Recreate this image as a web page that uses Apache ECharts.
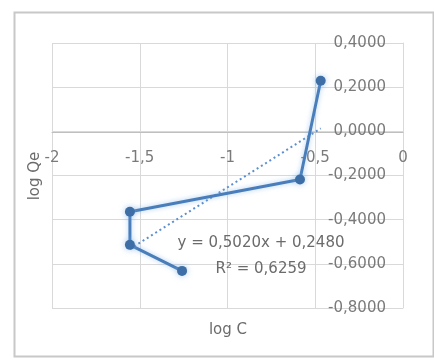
<!DOCTYPE html>
<html>
<head>
<meta charset="utf-8">
<script src="https://cdn.jsdelivr.net/npm/echarts@6/dist/echarts.min.js"></script>
<style>html,body{margin:0;padding:0;background:#fff}#c{width:434px;height:360px}</style>
</head>
<body>
<div id="c"></div>
<script>
var logC  = [-0.469, -0.587, -1.556, -1.556, -1.259];
var logQe = [0.229, -0.218, -0.364, -0.514, -0.632];
var trendX = [-1.556, -0.469];
var trendY = [-0.533, 0.013];
var equationText = 'y = 0,5020x + 0,2480';
var r2Text = 'R\u00b2 = 0,6259';
var xTitle = 'log C';
var yTitle = 'log Qe';

var FONT = 'DejaVu Sans';
var chart = echarts.init(document.getElementById('c'), null, {renderer: 'canvas'});
chart.setOption({
  animation: false,
  backgroundColor: '#ffffff',
  grid: {left: 52, right: 31, top: 43, bottom: 52},
  xAxis: [{
    type: 'value', min: -2, max: 0, interval: 0.5,
    offset: -176,
    axisLine: {show: true, onZero: false, lineStyle: {color: '#bfbfbf', width: 1}},
    axisTick: {show: false},
    axisLabel: {margin: 19, color: '#7a7a7a', fontFamily: FONT, fontSize: 15,
      formatter: function (v) { return String(v).replace('.', ','); }},
    splitLine: {show: true, lineStyle: {color: '#d9d9d9', width: 1}}
  }],
  yAxis: {
    type: 'value', min: -0.8, max: 0.4, interval: 0.2, position: 'right',
    axisLine: {show: true, onZero: false, lineStyle: {color: '#d9d9d9', width: 1}},
    axisTick: {show: false},
    axisLabel: {inside: true, margin: 17, color: '#7a7a7a', fontFamily: FONT, fontSize: 15,
      formatter: function (v) { return v.toFixed(4).replace('.', ','); }},
    splitLine: {show: true, lineStyle: {color: '#d9d9d9', width: 1}}
  },
  series: [
    {
      type: 'line',
      data: trendX.map(function (x, i) { return [x, trendY[i]]; }),
      showSymbol: false, symbol: 'none',
      lineStyle: {color: '#5b8fd0', width: 2, type: [2, 3]},
      z: 2
    },
    {
      type: 'line',
      data: logC.map(function (x, i) { return [x, logQe[i]]; }),
      symbol: 'circle', symbolSize: 10,
      itemStyle: {color: '#3e6ea6', shadowColor: 'rgba(120,175,230,0.6)', shadowBlur: 6},
      lineStyle: {color: '#4a7ebb', width: 3, shadowColor: 'rgba(120,175,230,0.6)', shadowBlur: 5},
      z: 3
    }
  ],
  graphic: [
    {type: 'rect', left: 12, top: 10, shape: {width: 419, height: 344},
      style: {fill: 'none', stroke: '#c8c8c8', lineWidth: 2}, silent: true, z: -1},
    {type: 'text', x: 261, y: 243, style: {text: equationText, fontFamily: FONT, fontSize: 15,
      fill: '#6b6b6b', align: 'center', verticalAlign: 'middle'}, z: 10},
    {type: 'text', x: 261, y: 269, style: {text: r2Text, fontFamily: FONT, fontSize: 15,
      fill: '#6b6b6b', align: 'center', verticalAlign: 'middle'}, z: 10},
    {type: 'text', x: 228, y: 330, style: {text: xTitle, fontFamily: FONT, fontSize: 15,
      fill: '#6b6b6b', align: 'center', verticalAlign: 'middle'}, z: 10},
    {type: 'text', x: 35, y: 176, rotation: Math.PI / 2, style: {text: yTitle, fontFamily: FONT, fontSize: 15,
      fill: '#6b6b6b', align: 'center', verticalAlign: 'middle'}, z: 10}
  ]
});
</script>
</body>
</html>
